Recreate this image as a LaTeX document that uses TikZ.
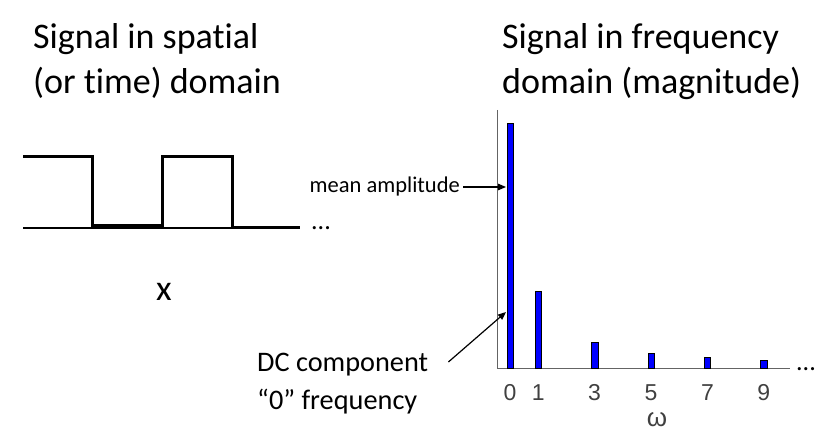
\documentclass[tikz,border=0pt]{standalone}
\usepackage{fontspec}
\setmainfont{Carlito}[Ligatures={NoCommon}]
\newfontfamily\arialfont{Liberation Sans}
\usepackage{tikz}
\usetikzlibrary{calc, positioning, arrows.meta}

\definecolor{barblue}{RGB}{0,0,255}
\definecolor{axisgray}{RGB}{100,100,100}
\definecolor{tickgray}{RGB}{64,64,64}

\tikzset{
    heading/.style={align=left, font=\fontsize{36}{45}\selectfont, inner sep=0pt},
    label/.style={align=left, font=\fontsize{28.3}{38}\selectfont, inner sep=0pt},
    note/.style={font=\fontsize{22.5}{26}\selectfont, inner sep=0pt},
    dots/.style={font=\fontsize{26}{30}\selectfont, inner sep=0pt, anchor=base},
    wave/.style={line width=3pt},
    bar/.style={fill=barblue, draw=black, line width=0.6pt},
    tick/.style={font=\arialfont\fontsize{23}{26}\selectfont, text=tickgray, inner sep=0pt},
    pointer/.style={-{Triangle[length=8pt,width=6.5pt]}, line width=1.2pt}
}

\begin{document}
\begin{tikzpicture}[x=1pt, y=-1pt]
            \useasboundingbox (0,0) rectangle (840,435);

            \node[heading, anchor=north west] (spatial) at (33,23) {Signal in spatial\\(or time) domain};
            \node[heading, anchor=north west] (frequency) at (502,23) {Signal in frequency\\domain (magnitude)};

            \draw[line width=2pt] (23,228) -- (300,228);
            \draw[wave] (23,157) -| (92,226) -| (162,157) -| (232,228) -- (300,228);
            \node[dots] (wavedots) at (321,230) {...};
            \node[heading] (xlabel) at (164,292) {x};

            \draw[axisgray, line width=1pt] (497,110) -- (497,368) -- (790,368);
            \foreach \w/\h in {0/245,1/77,3/26,5/15,7/11,9/8}{
                \draw[bar] ({510+28.2*\w-3.2},368) rectangle ++(6.5,-\h);
                \node[tick] (w\w) at ({510+28.2*\w},393) {\w};
            }
            \node[dots] (freqdots) at (806,370) {...};
            \node[tick, font=\arialfont\fontsize{26}{30}\selectfont] (omega) at (657,420) {ω};

            \node[note, anchor=east] (mean) at (460,187) {mean amplitude};
            \coordinate (meantip) at (506,187);
            \draw[pointer] ([xshift=3pt]mean.east) -- (meantip);

            \node[label, anchor=north west] (dc) at (257,353) {DC component\\“0” frequency};
            \coordinate (dctip) at (506,312);
            \draw[pointer] ($(dc.north east)+(20,9)$) -- (dctip);
\end{tikzpicture}
\end{document}
